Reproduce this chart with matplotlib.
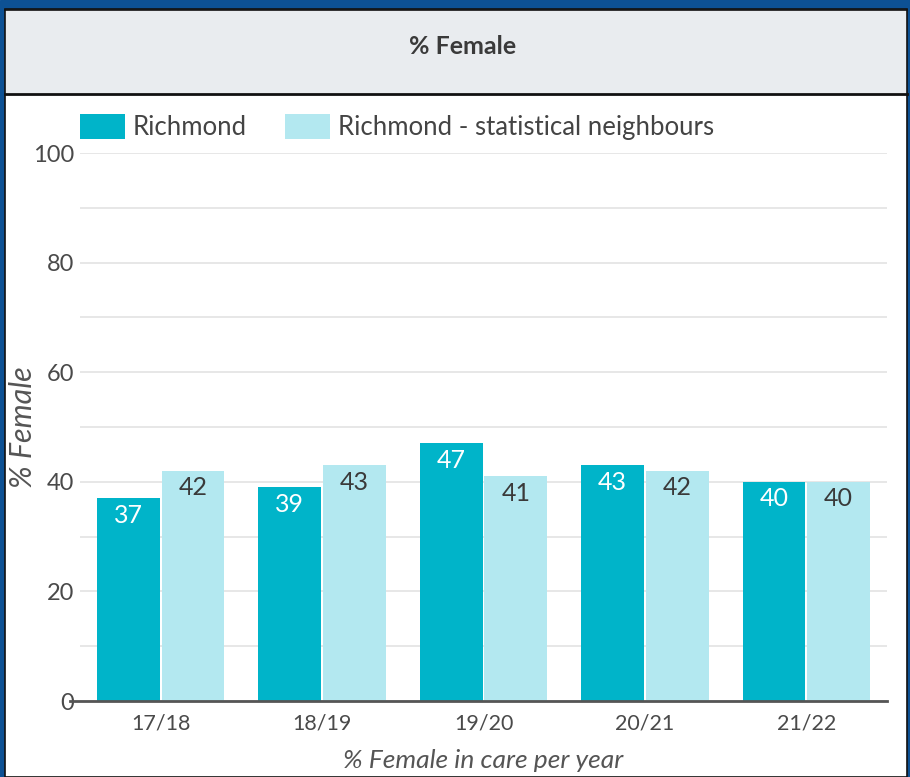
import matplotlib
matplotlib.use("Agg")
import matplotlib.pyplot as plt
from matplotlib.patches import Rectangle
import numpy as np

categories = ["17/18", "18/19", "19/20", "20/21", "21/22"]
richmond = [37, 39, 47, 43, 40]
neighbours = [42, 43, 41, 42, 40]
series_names = ["Richmond", "Richmond - statistical neighbours"]
title = "% Female"
ylabel = "% Female"
xlabel = "% Female in care per year"

W, H = 910, 777
plt.rcParams['font.family'] = ['Lato', 'DejaVu Sans']
fig = plt.figure(figsize=(W / 100, H / 100), dpi=100)

def fx(px):
    return px / W

def fy(py):
    return 1 - py / H

# frame
fig.patches.append(Rectangle((0, 0), 1, 1, transform=fig.transFigure, color="#0D5194", zorder=-5))
fig.patches.append(Rectangle((fx(5), 0), fx(902), fy(9), transform=fig.transFigure,
                             facecolor="white", edgecolor="#111111", lw=1.2, zorder=-4))
# header
fig.patches.append(Rectangle((fx(6), fy(93)), fx(900), (93 - 10) / H, transform=fig.transFigure,
                             facecolor="#E9ECEF", edgecolor="none", zorder=-3))
fig.lines.append(plt.Line2D([fx(5), fx(907)], [fy(93.5), fy(93.5)], transform=fig.transFigure,
                            color="#111111", lw=2.0, zorder=-2))
fig.lines.append(plt.Line2D([fx(5), fx(907)], [fy(10), fy(10)], transform=fig.transFigure,
                            color="#111111", lw=1.2, zorder=-2))
fig.text(fx(463), fy(46), title, ha="center", va="center", fontsize=18, fontweight="bold",
         color="#3a3a3a", zorder=4)

ax = fig.add_axes([fx(80), fy(701), fx(887 - 80), (701 - 153) / H])
ax.set_facecolor("none")
x = np.arange(len(categories))
bw = 0.39
c1, c2 = "#00B4C9", "#B3E8F0"
b1 = ax.bar(x - 0.2, richmond, bw, color=c1, zorder=3, label=series_names[0])
b2 = ax.bar(x + 0.2, neighbours, bw, color=c2, zorder=3, label=series_names[1])
for rect, v in zip(b1, richmond):
    ax.text(rect.get_x() + rect.get_width() / 2, v - 1.0, str(v), ha="center", va="top",
            fontsize=18, color="white", zorder=4)
for rect, v in zip(b2, neighbours):
    ax.text(rect.get_x() + rect.get_width() / 2, v - 1.0, str(v), ha="center", va="top",
            fontsize=18, color="#3a3a3a", zorder=4)

ax.set_xlim(-0.5, len(categories) - 0.5)
ax.set_ylim(0, 100)
ax.set_yticks([0, 20, 40, 60, 80, 100])
ax.set_yticks(range(10, 100, 20), minor=True)
ax.yaxis.grid(True, which="both", color="#E3E3E3", lw=1.2, zorder=0)
ax.tick_params(axis="y", which="both", length=0, labelsize=17, labelcolor="#4a4a4a", pad=4)
ax.set_xticks(x)
ax.set_xticklabels(categories)
ax.tick_params(axis="x", length=0, labelsize=15.5, labelcolor="#4a4a4a", pad=9)
for s in ["top", "right", "left", "bottom"]:
    ax.spines[s].set_visible(False)
ax.plot([-0.56, len(categories) - 0.5], [0, 0], color="#555555", lw=2, clip_on=False, zorder=5)

ax.set_ylabel(ylabel, fontsize=22, style="italic", color="#555555")
ax.yaxis.set_label_coords((37 - 80) / 807, 0.5)
ax.set_xlabel(xlabel, fontsize=19, style="italic", color="#555555", labelpad=11)

leg = ax.legend(loc="center left", bbox_to_anchor=(fx(80), fy(127)),
                bbox_transform=fig.transFigure, ncol=2, frameon=False,
                fontsize=18.5, handlelength=1.75, handleheight=1.09, columnspacing=1.5,
                handletextpad=0.3, borderaxespad=0.0, borderpad=0.0, labelcolor="#444444")

fig.savefig("out.png", dpi=100)
